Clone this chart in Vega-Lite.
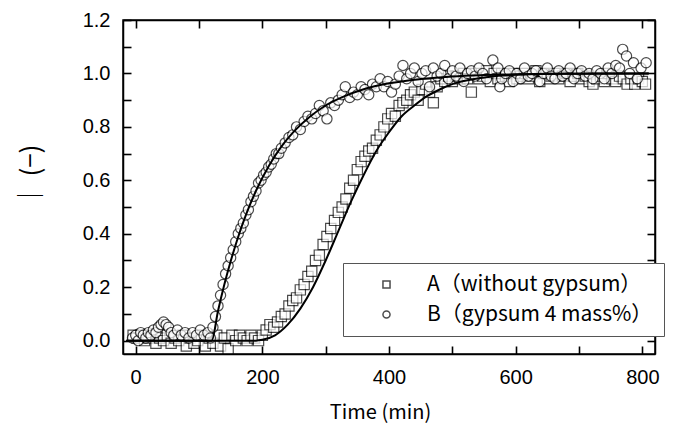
{
  "$schema": "https://vega.github.io/schema/vega-lite/v6.json",
  "autosize": "none",
  "width": 532,
  "height": 334,
  "padding": {"left": 123, "top": 20, "right": 18, "bottom": 76},
  "background": "white",
  "datasets": {
    "pts": [
      {"t":-4,"v":0.02,"s":"A"},{"t":2,"v":0.01,"s":"A"},{"t":8,"v":0.02,"s":"A"},{"t":14,"v":0.0,"s":"A"},{"t":20,"v":0.01,"s":"A"},{"t":26,"v":0.02,"s":"A"},{"t":32,"v":-0.01,"s":"A"},{"t":38,"v":0.01,"s":"A"},{"t":44,"v":0.0,"s":"A"},{"t":50,"v":0.02,"s":"A"},{"t":56,"v":-0.01,"s":"A"},{"t":62,"v":0.01,"s":"A"},{"t":68,"v":0.0,"s":"A"},{"t":74,"v":0.02,"s":"A"},{"t":80,"v":-0.02,"s":"A"},{"t":86,"v":0.01,"s":"A"},{"t":92,"v":-0.01,"s":"A"},{"t":98,"v":0.0,"s":"A"},{"t":104,"v":0.02,"s":"A"},{"t":110,"v":-0.02,"s":"A"},{"t":116,"v":0.01,"s":"A"},{"t":122,"v":-0.01,"s":"A"},{"t":128,"v":0.02,"s":"A"},{"t":134,"v":-0.02,"s":"A"},{"t":140,"v":0.01,"s":"A"},{"t":146,"v":-0.03,"s":"A"},{"t":152,"v":0.02,"s":"A"},{"t":158,"v":0.0,"s":"A"},{"t":164,"v":0.02,"s":"A"},{"t":170,"v":0.01,"s":"A"},{"t":176,"v":0.0,"s":"A"},{"t":182,"v":0.02,"s":"A"},{"t":188,"v":0.01,"s":"A"},{"t":194,"v":0.0,"s":"A"},{"t":200,"v":0.02,"s":"A"},
      {"t":206,"v":0.04,"s":"A"},{"t":212,"v":0.06,"s":"A"},{"t":218,"v":0.05,"s":"A"},{"t":224,"v":0.07,"s":"A"},{"t":230,"v":0.09,"s":"A"},{"t":236,"v":0.1,"s":"A"},{"t":242,"v":0.13,"s":"A"},{"t":248,"v":0.15,"s":"A"},{"t":254,"v":0.16,"s":"A"},{"t":260,"v":0.19,"s":"A"},{"t":266,"v":0.21,"s":"A"},{"t":272,"v":0.24,"s":"A"},{"t":278,"v":0.26,"s":"A"},{"t":284,"v":0.3,"s":"A"},{"t":290,"v":0.32,"s":"A"},{"t":296,"v":0.36,"s":"A"},{"t":302,"v":0.39,"s":"A"},{"t":308,"v":0.42,"s":"A"},{"t":314,"v":0.45,"s":"A"},{"t":320,"v":0.48,"s":"A"},{"t":326,"v":0.5,"s":"A"},{"t":332,"v":0.53,"s":"A"},{"t":338,"v":0.57,"s":"A"},{"t":344,"v":0.6,"s":"A"},{"t":350,"v":0.64,"s":"A"},{"t":356,"v":0.67,"s":"A"},{"t":362,"v":0.69,"s":"A"},{"t":368,"v":0.71,"s":"A"},{"t":374,"v":0.72,"s":"A"},{"t":380,"v":0.75,"s":"A"},{"t":386,"v":0.77,"s":"A"},{"t":392,"v":0.8,"s":"A"},{"t":398,"v":0.83,"s":"A"},{"t":404,"v":0.85,"s":"A"},{"t":410,"v":0.84,"s":"A"},{"t":416,"v":0.88,"s":"A"},{"t":422,"v":0.89,"s":"A"},{"t":428,"v":0.9,"s":"A"},{"t":434,"v":0.92,"s":"A"},{"t":440,"v":0.93,"s":"A"},{"t":446,"v":0.9,"s":"A"},{"t":452,"v":0.94,"s":"A"},{"t":458,"v":0.96,"s":"A"},{"t":464,"v":0.93,"s":"A"},{"t":470,"v":0.89,"s":"A"},{"t":476,"v":0.95,"s":"A"},{"t":482,"v":0.98,"s":"A"},{"t":488,"v":0.97,"s":"A"},{"t":494,"v":0.99,"s":"A"},{"t":500,"v":0.97,"s":"A"},{"t":506,"v":0.99,"s":"A"},{"t":512,"v":0.98,"s":"A"},{"t":518,"v":1.0,"s":"A"},{"t":524,"v":0.98,"s":"A"},{"t":530,"v":0.93,"s":"A"},{"t":536,"v":1.0,"s":"A"},{"t":542,"v":0.98,"s":"A"},{"t":548,"v":0.99,"s":"A"},{"t":554,"v":1.01,"s":"A"},{"t":560,"v":0.97,"s":"A"},{"t":566,"v":1.0,"s":"A"},{"t":572,"v":0.98,"s":"A"},{"t":578,"v":1.0,"s":"A"},{"t":584,"v":0.99,"s":"A"},{"t":590,"v":0.97,"s":"A"},{"t":596,"v":1.0,"s":"A"},{"t":602,"v":0.98,"s":"A"},{"t":608,"v":0.99,"s":"A"},{"t":614,"v":1.0,"s":"A"},{"t":620,"v":0.98,"s":"A"},{"t":626,"v":0.99,"s":"A"},{"t":632,"v":1.01,"s":"A"},{"t":638,"v":0.97,"s":"A"},{"t":644,"v":1.0,"s":"A"},{"t":650,"v":0.98,"s":"A"},{"t":656,"v":0.99,"s":"A"},{"t":662,"v":1.0,"s":"A"},{"t":668,"v":0.98,"s":"A"},{"t":674,"v":0.99,"s":"A"},{"t":680,"v":1.0,"s":"A"},{"t":686,"v":0.97,"s":"A"},{"t":692,"v":0.99,"s":"A"},{"t":698,"v":1.0,"s":"A"},{"t":704,"v":0.98,"s":"A"},{"t":710,"v":0.99,"s":"A"},{"t":716,"v":0.97,"s":"A"},{"t":722,"v":0.96,"s":"A"},{"t":728,"v":0.98,"s":"A"},{"t":734,"v":0.99,"s":"A"},{"t":740,"v":0.97,"s":"A"},{"t":746,"v":1.0,"s":"A"},{"t":752,"v":0.98,"s":"A"},{"t":758,"v":0.97,"s":"A"},{"t":764,"v":0.99,"s":"A"},{"t":770,"v":0.98,"s":"A"},{"t":776,"v":0.96,"s":"A"},{"t":782,"v":0.98,"s":"A"},{"t":788,"v":0.96,"s":"A"},{"t":794,"v":0.98,"s":"A"},{"t":800,"v":0.97,"s":"A"},{"t":805,"v":0.96,"s":"A"},
      {"t":-5,"v":0.01,"s":"B"},{"t":0,"v":0.02,"s":"B"},{"t":4,"v":0.0,"s":"B"},{"t":8,"v":0.03,"s":"B"},{"t":12,"v":0.02,"s":"B"},{"t":16,"v":0.01,"s":"B"},{"t":20,"v":0.03,"s":"B"},{"t":24,"v":0.02,"s":"B"},{"t":28,"v":0.04,"s":"B"},{"t":32,"v":0.03,"s":"B"},{"t":36,"v":0.05,"s":"B"},{"t":40,"v":0.06,"s":"B"},{"t":44,"v":0.07,"s":"B"},{"t":48,"v":0.06,"s":"B"},{"t":52,"v":0.05,"s":"B"},{"t":56,"v":0.03,"s":"B"},{"t":60,"v":0.02,"s":"B"},{"t":66,"v":0.04,"s":"B"},{"t":72,"v":0.02,"s":"B"},{"t":78,"v":0.03,"s":"B"},{"t":84,"v":0.01,"s":"B"},{"t":90,"v":0.03,"s":"B"},{"t":96,"v":0.02,"s":"B"},{"t":102,"v":0.04,"s":"B"},{"t":108,"v":0.02,"s":"B"},{"t":114,"v":0.03,"s":"B"},{"t":118,"v":0.01,"s":"B"},{"t":122,"v":0.05,"s":"B"},{"t":126,"v":0.09,"s":"B"},{"t":130,"v":0.13,"s":"B"},{"t":134,"v":0.17,"s":"B"},{"t":138,"v":0.21,"s":"B"},{"t":142,"v":0.25,"s":"B"},{"t":146,"v":0.28,"s":"B"},{"t":150,"v":0.31,"s":"B"},{"t":154,"v":0.34,"s":"B"},{"t":158,"v":0.37,"s":"B"},{"t":162,"v":0.4,"s":"B"},{"t":166,"v":0.42,"s":"B"},{"t":170,"v":0.44,"s":"B"},{"t":174,"v":0.47,"s":"B"},{"t":178,"v":0.49,"s":"B"},{"t":182,"v":0.52,"s":"B"},{"t":186,"v":0.54,"s":"B"},{"t":190,"v":0.56,"s":"B"},{"t":194,"v":0.59,"s":"B"},{"t":198,"v":0.6,"s":"B"},{"t":202,"v":0.62,"s":"B"},{"t":206,"v":0.63,"s":"B"},{"t":210,"v":0.65,"s":"B"},{"t":214,"v":0.66,"s":"B"},{"t":218,"v":0.68,"s":"B"},{"t":222,"v":0.7,"s":"B"},{"t":226,"v":0.7,"s":"B"},{"t":230,"v":0.72,"s":"B"},{"t":236,"v":0.74,"s":"B"},{"t":242,"v":0.76,"s":"B"},{"t":248,"v":0.77,"s":"B"},{"t":254,"v":0.8,"s":"B"},{"t":260,"v":0.79,"s":"B"},{"t":266,"v":0.82,"s":"B"},{"t":272,"v":0.84,"s":"B"},{"t":278,"v":0.83,"s":"B"},{"t":284,"v":0.85,"s":"B"},{"t":290,"v":0.88,"s":"B"},{"t":296,"v":0.86,"s":"B"},{"t":302,"v":0.83,"s":"B"},{"t":308,"v":0.89,"s":"B"},{"t":314,"v":0.88,"s":"B"},{"t":320,"v":0.9,"s":"B"},{"t":326,"v":0.92,"s":"B"},{"t":331,"v":0.95,"s":"B"},{"t":338,"v":0.91,"s":"B"},{"t":344,"v":0.93,"s":"B"},{"t":350,"v":0.92,"s":"B"},{"t":356,"v":0.95,"s":"B"},{"t":362,"v":0.94,"s":"B"},{"t":368,"v":0.92,"s":"B"},{"t":374,"v":0.96,"s":"B"},{"t":380,"v":0.95,"s":"B"},{"t":386,"v":0.98,"s":"B"},{"t":392,"v":0.95,"s":"B"},{"t":398,"v":0.97,"s":"B"},{"t":404,"v":0.93,"s":"B"},{"t":410,"v":0.96,"s":"B"},{"t":416,"v":0.99,"s":"B"},{"t":422,"v":1.03,"s":"B"},{"t":428,"v":0.98,"s":"B"},{"t":434,"v":1.0,"s":"B"},{"t":440,"v":1.02,"s":"B"},{"t":446,"v":0.97,"s":"B"},{"t":452,"v":1.0,"s":"B"},{"t":458,"v":1.01,"s":"B"},{"t":464,"v":0.95,"s":"B"},{"t":470,"v":1.02,"s":"B"},{"t":476,"v":0.99,"s":"B"},{"t":482,"v":1.0,"s":"B"},{"t":488,"v":1.03,"s":"B"},{"t":494,"v":0.98,"s":"B"},{"t":500,"v":1.01,"s":"B"},{"t":506,"v":0.99,"s":"B"},{"t":512,"v":1.02,"s":"B"},{"t":518,"v":0.97,"s":"B"},{"t":524,"v":1.0,"s":"B"},{"t":530,"v":1.01,"s":"B"},{"t":536,"v":0.99,"s":"B"},{"t":542,"v":1.02,"s":"B"},{"t":548,"v":1.0,"s":"B"},{"t":554,"v":0.98,"s":"B"},{"t":564,"v":1.05,"s":"B"},{"t":575,"v":0.95,"s":"B"},{"t":572,"v":1.02,"s":"B"},{"t":578,"v":0.98,"s":"B"},{"t":584,"v":1.0,"s":"B"},{"t":590,"v":1.01,"s":"B"},{"t":596,"v":0.97,"s":"B"},{"t":602,"v":1.0,"s":"B"},{"t":608,"v":0.98,"s":"B"},{"t":614,"v":1.02,"s":"B"},{"t":620,"v":0.99,"s":"B"},{"t":626,"v":1.0,"s":"B"},{"t":632,"v":1.01,"s":"B"},{"t":638,"v":0.97,"s":"B"},{"t":644,"v":1.0,"s":"B"},{"t":650,"v":1.02,"s":"B"},{"t":656,"v":0.99,"s":"B"},{"t":662,"v":0.98,"s":"B"},{"t":668,"v":1.01,"s":"B"},{"t":674,"v":0.99,"s":"B"},{"t":680,"v":1.0,"s":"B"},{"t":686,"v":1.02,"s":"B"},{"t":692,"v":0.98,"s":"B"},{"t":698,"v":1.0,"s":"B"},{"t":704,"v":1.01,"s":"B"},{"t":710,"v":0.99,"s":"B"},{"t":716,"v":1.0,"s":"B"},{"t":722,"v":0.98,"s":"B"},{"t":728,"v":1.01,"s":"B"},{"t":734,"v":1.0,"s":"B"},{"t":740,"v":0.98,"s":"B"},{"t":746,"v":1.02,"s":"B"},{"t":752,"v":1.0,"s":"B"},{"t":758,"v":1.03,"s":"B"},{"t":764,"v":1.02,"s":"B"},{"t":769,"v":1.09,"s":"B"},{"t":775,"v":1.065,"s":"B"},{"t":780,"v":1.0,"s":"B"},{"t":786,"v":1.04,"s":"B"},{"t":792,"v":0.98,"s":"B"},{"t":798,"v":1.02,"s":"B"},{"t":806,"v":1.04,"s":"B"}
    ],
    "fit": [
      {"t":-15,"v":0,"s":"A"},{"t":190,"v":0,"s":"A"},{"t":200,"v":0.003,"s":"A"},{"t":220,"v":0.02,"s":"A"},{"t":240,"v":0.06,"s":"A"},{"t":260,"v":0.12,"s":"A"},{"t":280,"v":0.2,"s":"A"},{"t":300,"v":0.3,"s":"A"},{"t":320,"v":0.41,"s":"A"},{"t":340,"v":0.52,"s":"A"},{"t":360,"v":0.62,"s":"A"},{"t":380,"v":0.71,"s":"A"},{"t":400,"v":0.78,"s":"A"},{"t":420,"v":0.84,"s":"A"},{"t":440,"v":0.88,"s":"A"},{"t":460,"v":0.915,"s":"A"},{"t":480,"v":0.94,"s":"A"},{"t":500,"v":0.96,"s":"A"},{"t":530,"v":0.977,"s":"A"},{"t":560,"v":0.988,"s":"A"},{"t":600,"v":0.995,"s":"A"},{"t":650,"v":0.999,"s":"A"},{"t":810,"v":1.0,"s":"A"},
      {"t":-15,"v":0,"s":"B"},{"t":120,"v":0,"s":"B"},{"t":130,"v":0.111,"s":"B"},{"t":140,"v":0.21,"s":"B"},{"t":150,"v":0.297,"s":"B"},{"t":160,"v":0.375,"s":"B"},{"t":175,"v":0.476,"s":"B"},{"t":190,"v":0.561,"s":"B"},{"t":210,"v":0.653,"s":"B"},{"t":230,"v":0.726,"s":"B"},{"t":250,"v":0.783,"s":"B"},{"t":275,"v":0.838,"s":"B"},{"t":300,"v":0.88,"s":"B"},{"t":330,"v":0.915,"s":"B"},{"t":360,"v":0.941,"s":"B"},{"t":400,"v":0.963,"s":"B"},{"t":450,"v":0.979,"s":"B"},{"t":500,"v":0.989,"s":"B"},{"t":550,"v":0.994,"s":"B"},{"t":600,"v":0.997,"s":"B"},{"t":700,"v":0.999,"s":"B"},{"t":810,"v":1.0,"s":"B"}
    ]
  },
  "layer": [
    {
      "data": {"name": "pts"},
      "mark": {"type": "point", "fill": "white", "stroke": "black", "strokeWidth": 1.2, "size": 105},
      "encoding": {
        "x": {"field": "t", "type": "quantitative", "scale": {"domain": [-20, 820], "nice": false, "zero": false},
              "axis": {"orient": "top", "labels": false, "title": null,
                       "values": [0,100,200,300,400,500,600,700,800]}},
        "y": {"field": "v", "type": "quantitative", "scale": {"domain": [-0.05, 1.2], "nice": false, "zero": false},
              "axis": {"orient": "right", "labels": false, "title": null,
                       "values": [0,0.1,0.2,0.3,0.4,0.5,0.6,0.7,0.8,0.9,1.0,1.1,1.2]}},
        "shape": {"field": "s", "type": "nominal", "scale": {"domain": ["A","B"], "range": ["square","circle"]},
                  "legend": {"orient": "none", "legendX": 220, "legendY": 243, "title": null, "labelLimit": 400,
                             "labelExpr": "datum.value === 'A' ? 'A（without gypsum）' : 'B（gypsum 4 mass%）'"}}
      }
    },
    {
      "data": {"name": "fit"},
      "mark": {"type": "line", "color": "black", "strokeWidth": 2, "interpolate": "monotone"},
      "encoding": {
        "x": {"field": "t", "type": "quantitative",
              "axis": {"orient": "bottom", "title": "Time (min)",
                       "values": [0,100,200,300,400,500,600,700,800],
                       "labelExpr": "datum.value % 200 === 0 ? datum.label : ''",
                       "titleX": 257, "titleY": 58, "titleBaseline": "middle", "titleAnchor": null}},
        "y": {"field": "v", "type": "quantitative",
              "axis": {"orient": "left", "title": "│   (−)", "format": ".1f",
                       "values": [0,0.1,0.2,0.3,0.4,0.5,0.6,0.7,0.8,0.9,1.0,1.1,1.2],
                       "labelExpr": "round(datum.value * 10) % 2 === 0 ? datum.label : ''",
                       "titleX": -92, "titleY": 156, "titleAlign": "center", "titleBaseline": "middle", "titleFontSize": 26}},
        "detail": {"field": "s", "type": "nominal"}
      }
    }
  ],
  "resolve": {"axis": {"x": "independent", "y": "independent"}},
  "config": {
    "view": {"stroke": "black", "strokeWidth": 1.5},
    "axis": {
      "tickColor": "#000000", "tickSize": -8, "tickWidth": 1.6, "labelPadding": 21,
      "gridColor": "white", "gridWidth": 0,
      "domainColor": "black", "domainWidth": 1.5,
      "labelFont": "Liberation Sans", "labelFontSize": 20, "labelColor": "black",
      "titleFont": "Noto Sans CJK JP", "titleFontSize": 20, "titleFontWeight": "normal", "titleColor": "black"
    },
    "legend": {
      "strokeColor": "#555", "fillColor": "white", "padding": 11, "rowPadding": 8,
      "symbolSize": 50, "symbolOffset": 22, "labelOffset": 30,
      "labelFont": "Noto Sans CJK JP", "labelFontSize": 21, "labelColor": "black"
    }
  }
}
